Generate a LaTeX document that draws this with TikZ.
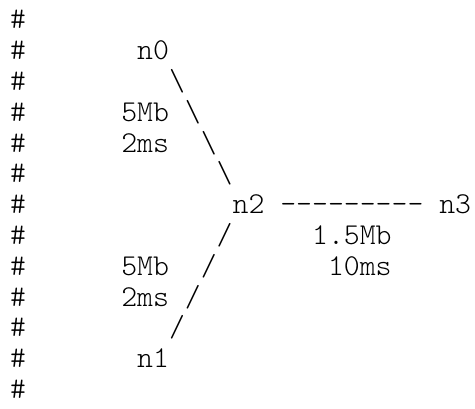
\documentclass[tikz,border=0pt]{standalone}
\usepackage{fontspec}
\setmonofont{Latin Modern Mono Light}
\newcommand{\chw}{15.9}
\newcommand{\xo}{10}
\newcommand{\yb}{29}
\newcommand{\ls}{30.8}
\begin{document}
\begin{tikzpicture}[x=1pt,y=-1pt,
  asc/.style={anchor=base west,inner sep=0pt,outer sep=0pt,
    font=\ttfamily\fontsize{30.3}{31}\selectfont,text=black}]
\useasboundingbox[fill=white] (0,0) rectangle (475,409);
\newcommand{\cell}[4]{\node[asc] (#1) at ({\xo+#2*\chw},{\yb+#3*\ls}) {#4};}
% comment column
\foreach \r in {0,...,12} {\node[asc] (h\r) at ({\xo},{\yb+\r*\ls}) {\#};}
% upper link n0 -- n2
\cell{n0}{8}{1}{n0}
\cell{b1}{10}{2}{\textbackslash}
\cell{bwa}{7}{3}{5Mb}
\cell{b2}{11}{3}{\textbackslash}
\cell{dla}{7}{4}{2ms}
\cell{b3}{12}{4}{\textbackslash}
\cell{b4}{13}{5}{\textbackslash}
% middle row
\cell{n2}{14}{6}{n2}
\cell{dash}{17}{6}{-\kern0pt-\kern0pt-\kern0pt-\kern0pt-\kern0pt-\kern0pt-\kern0pt-\kern0pt-}
\cell{n3}{27}{6}{n3}
\cell{bwc}{19}{7}{1.5Mb}
\cell{dlc}{20}{8}{10ms}
% lower link n1 -- n2
\cell{s1}{13}{7}{/}
\cell{bwb}{7}{8}{5Mb}
\cell{s2}{12}{8}{/}
\cell{dlb}{7}{9}{2ms}
\cell{s3}{11}{9}{/}
\cell{s4}{10}{10}{/}
\cell{n1}{8}{11}{n1}
\end{tikzpicture}
\end{document}
